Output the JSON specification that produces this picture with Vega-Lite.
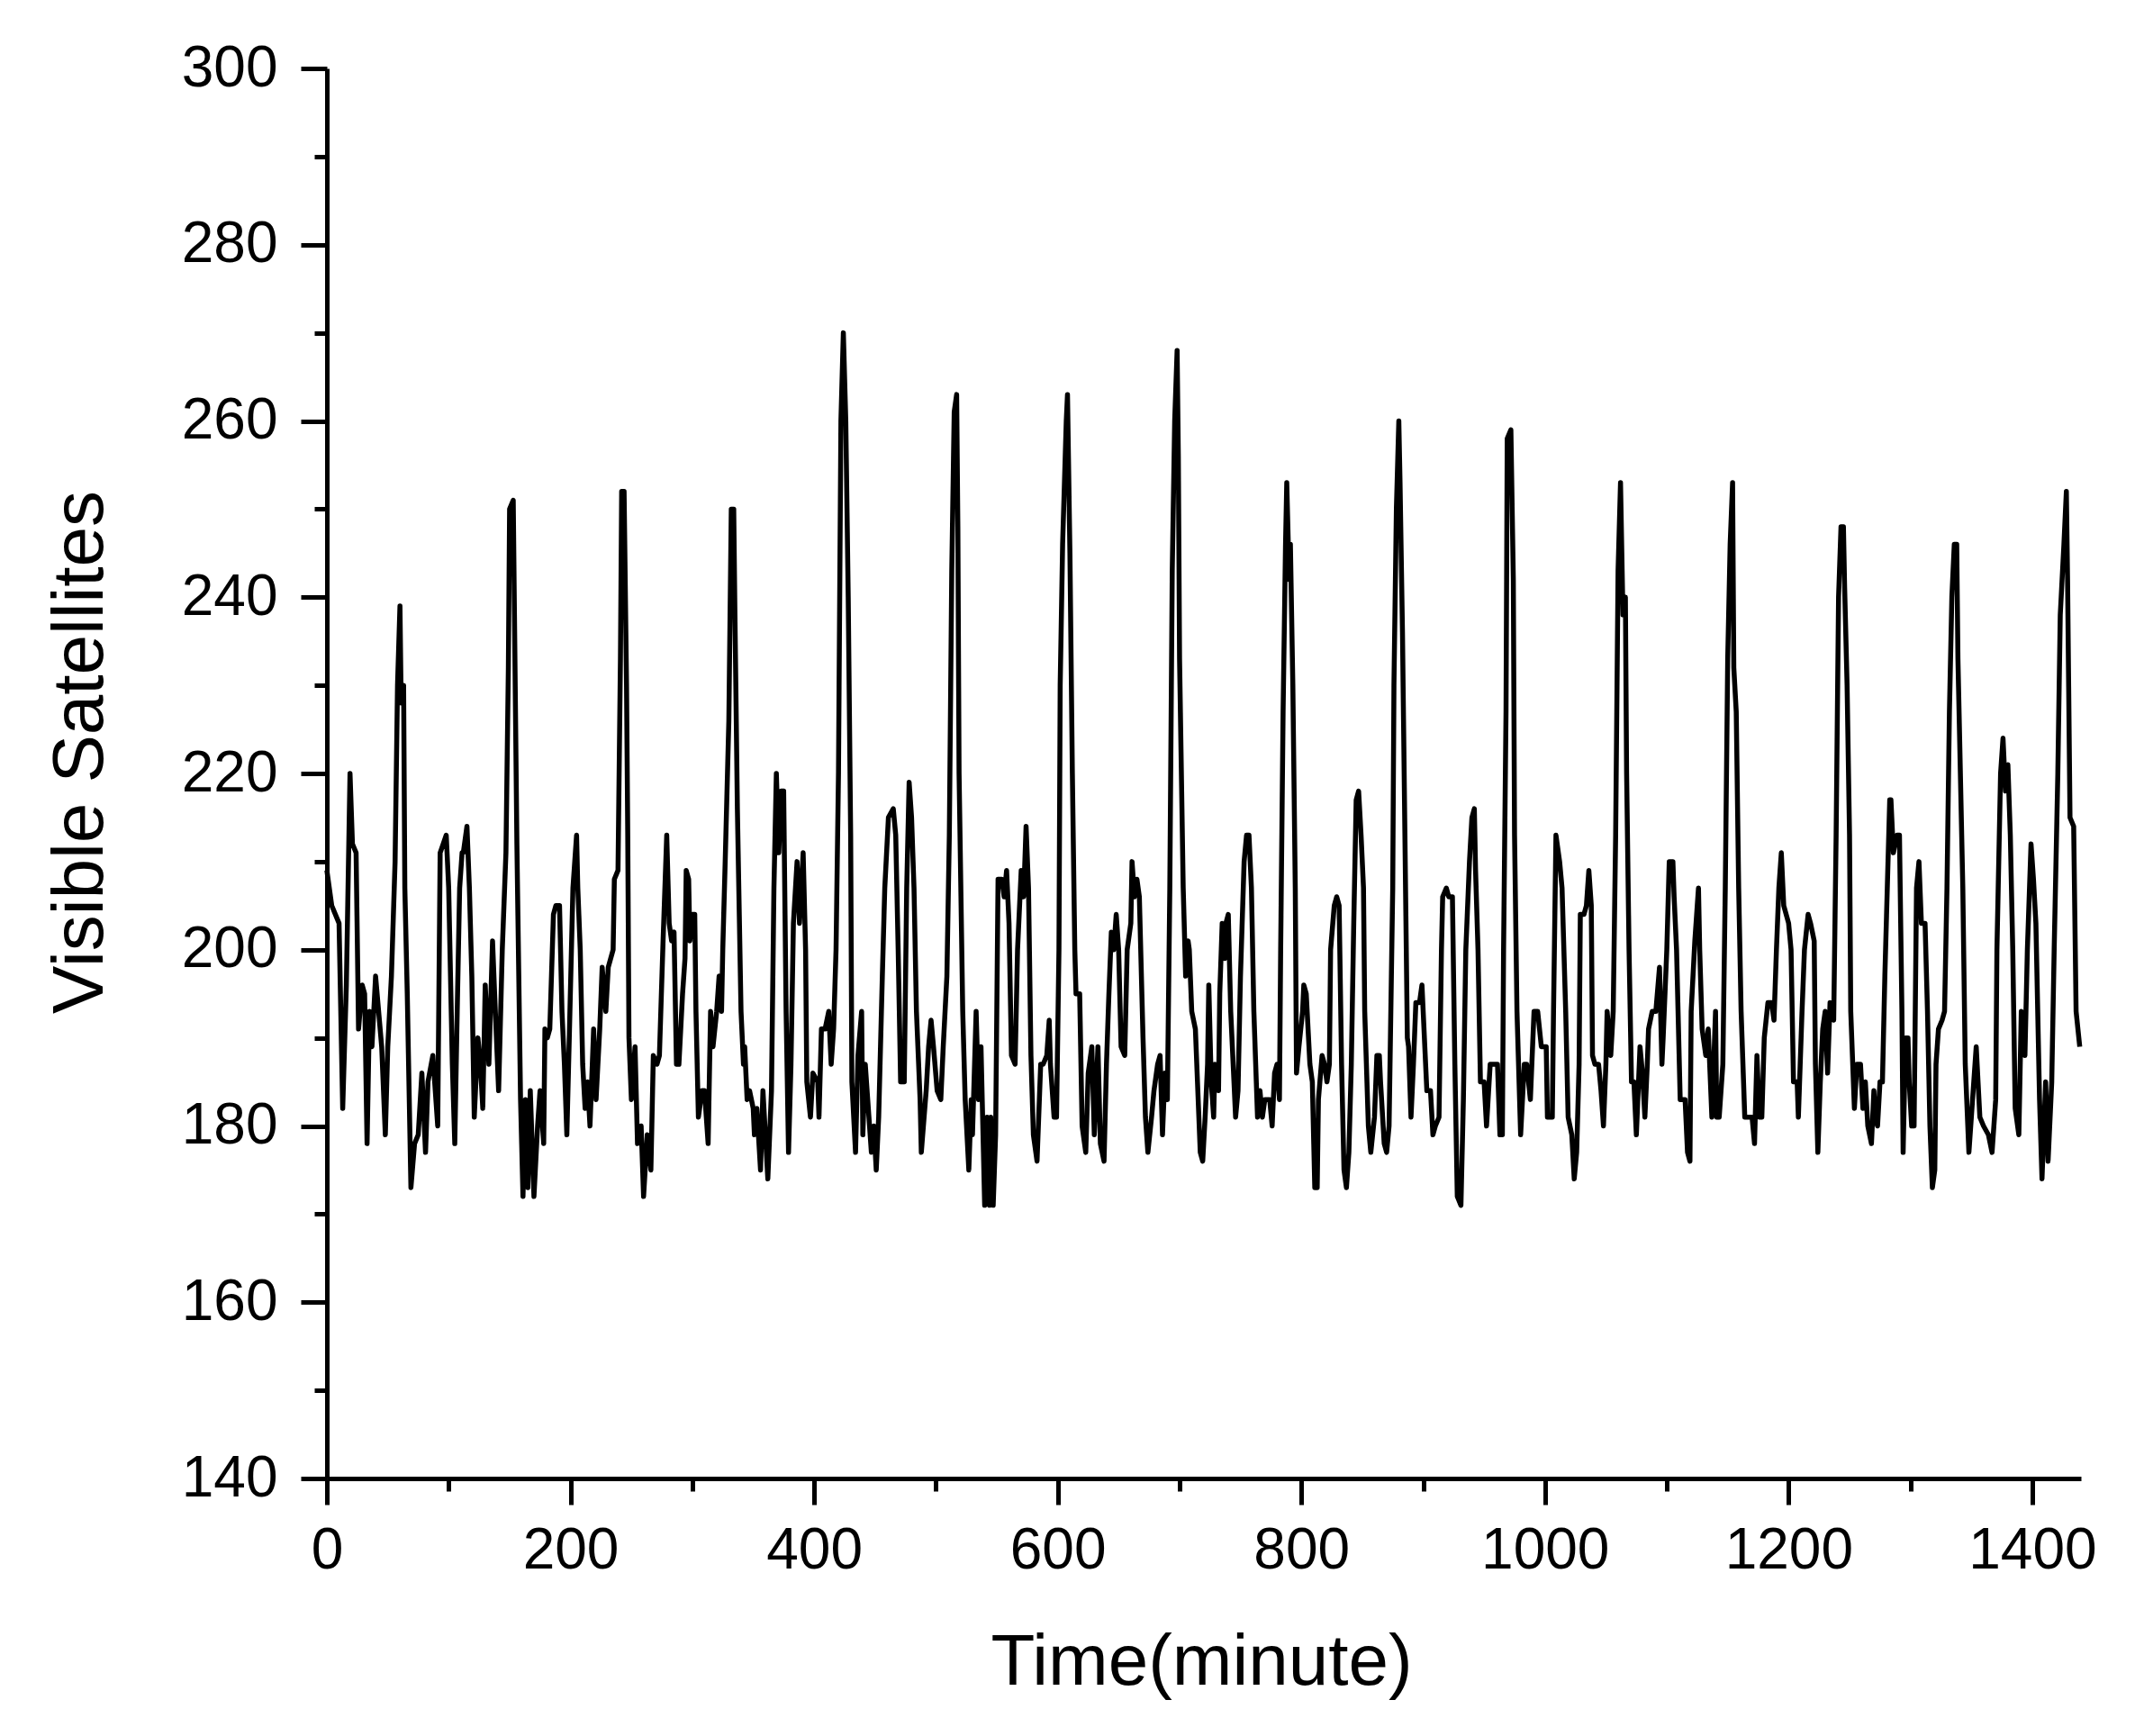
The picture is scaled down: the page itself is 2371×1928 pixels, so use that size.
{
  "$schema": "https://vega.github.io/schema/vega-lite/v6.json",
  "width": 1948,
  "height": 1566,
  "autosize": "none",
  "padding": {"left": 363, "top": 76, "right": 60, "bottom": 286},
  "background": "white",
  "config": {"view": {"stroke": null}},
  "data": {"values": [
{"t":0,"v":209},{"t":4,"v":205},{"t":10,"v":203},{"t":13,"v":182},{"t":16,"v":196},{"t":19,"v":220},{"t":21,"v":212},{"t":24,"v":211},{"t":26,"v":191},{"t":29,"v":196},{"t":31,"v":195},{"t":33,"v":178},{"t":35,"v":193},{"t":37,"v":189},{"t":40,"v":197},{"t":45,"v":189},{"t":48,"v":179},{"t":50,"v":189},{"t":53,"v":197},{"t":56,"v":210},{"t":58,"v":230},{"t":60,"v":239},{"t":61,"v":228},{"t":63,"v":230},{"t":64,"v":207},{"t":66,"v":195},{"t":69,"v":173},{"t":72,"v":178},{"t":75,"v":179},{"t":78,"v":186},{"t":81,"v":177},{"t":83,"v":185},{"t":87,"v":188},{"t":91,"v":180},{"t":93,"v":211},{"t":98,"v":213},{"t":100,"v":207},{"t":103,"v":187},{"t":105,"v":178},{"t":107,"v":193},{"t":109,"v":207},{"t":111,"v":211},{"t":112,"v":211},{"t":115,"v":214},{"t":117,"v":207},{"t":119,"v":197},{"t":121,"v":181},{"t":124,"v":190},{"t":126,"v":187},{"t":128,"v":182},{"t":130,"v":196},{"t":133,"v":187},{"t":136,"v":201},{"t":138,"v":194},{"t":141,"v":184},{"t":144,"v":200},{"t":147,"v":211},{"t":149,"v":232},{"t":150,"v":250},{"t":153,"v":251},{"t":154,"v":238},{"t":156,"v":212},{"t":159,"v":183},{"t":161,"v":172},{"t":163,"v":183},{"t":165,"v":173},{"t":167,"v":184},{"t":170,"v":172},{"t":173,"v":180},{"t":175,"v":184},{"t":178,"v":178},
{"t":179,"v":191},{"t":181,"v":190},{"t":183,"v":191},{"t":186,"v":204},{"t":188,"v":205},{"t":191,"v":205},{"t":193,"v":193},{"t":195,"v":187},{"t":197,"v":179},{"t":199,"v":190},{"t":202,"v":207},{"t":205,"v":213},{"t":206,"v":207},{"t":208,"v":200},{"t":210,"v":187},{"t":212,"v":182},{"t":214,"v":185},{"t":216,"v":180},{"t":219,"v":191},{"t":221,"v":183},{"t":224,"v":191},{"t":226,"v":198},{"t":229,"v":193},{"t":231,"v":198},{"t":235,"v":200},{"t":236,"v":208},{"t":239,"v":209},{"t":241,"v":233},{"t":242,"v":252},{"t":244,"v":252},{"t":246,"v":230},{"t":247,"v":213},{"t":248,"v":190},{"t":250,"v":183},{"t":253,"v":189},{"t":255,"v":178},{"t":258,"v":180},{"t":260,"v":172},{"t":263,"v":179},{"t":266,"v":175},{"t":268,"v":188},{"t":271,"v":187},{"t":273,"v":188},{"t":276,"v":201},{"t":279,"v":213},{"t":281,"v":203},{"t":283,"v":201},{"t":285,"v":202},{"t":287,"v":187},{"t":289,"v":187},{"t":292,"v":195},{"t":294,"v":199},{"t":295,"v":209},{"t":297,"v":208},{"t":298,"v":201},{"t":300,"v":204},{"t":302,"v":204},{"t":303,"v":193},{"t":305,"v":181},{"t":308,"v":184},{"t":310,"v":184},{"t":313,"v":178},{"t":315,"v":193},{"t":317,"v":189},{"t":320,"v":193},{"t":322,"v":197},{"t":324,"v":193},{"t":325,"v":200},{"t":327,"v":210},{"t":330,"v":226},{"t":332,"v":250},{"t":334,"v":250},{"t":335,"v":238},{"t":337,"v":216},{"t":340,"v":193},{"t":342,"v":187},{"t":343,"v":189},{"t":345,"v":183},{"t":347,"v":184},{"t":350,"v":182},{"t":351,"v":179},{"t":353,"v":182},
{"t":356,"v":175},{"t":358,"v":184},{"t":360,"v":179},{"t":362,"v":174},{"t":365,"v":184},{"t":367,"v":207},{"t":369,"v":220},{"t":371,"v":211},{"t":373,"v":218},{"t":375,"v":218},{"t":377,"v":193},{"t":379,"v":177},{"t":381,"v":187},{"t":383,"v":203},{"t":386,"v":210},{"t":388,"v":203},{"t":391,"v":211},{"t":393,"v":200},{"t":394,"v":185},{"t":397,"v":181},{"t":399,"v":186},{"t":403,"v":185},{"t":404,"v":181},{"t":406,"v":191},{"t":409,"v":191},{"t":412,"v":193},{"t":414,"v":187},{"t":416,"v":191},{"t":418,"v":200},{"t":420,"v":220},{"t":422,"v":260},{"t":424,"v":270},{"t":426,"v":260},{"t":428,"v":240},{"t":430,"v":213},{"t":431,"v":185},{"t":434,"v":177},{"t":436,"v":188},{"t":439,"v":193},{"t":440,"v":179},{"t":442,"v":187},{"t":445,"v":181},{"t":447,"v":177},{"t":449,"v":180},{"t":451,"v":175},{"t":453,"v":181},{"t":456,"v":197},{"t":458,"v":207},{"t":461,"v":215},{"t":465,"v":216},{"t":467,"v":213},{"t":469,"v":200},{"t":471,"v":185},{"t":474,"v":185},{"t":476,"v":207},{"t":478,"v":219},{"t":480,"v":215},{"t":482,"v":207},{"t":484,"v":193},{"t":487,"v":183},{"t":488,"v":177},{"t":492,"v":184},{"t":494,"v":189},{"t":496,"v":192},{"t":498,"v":189},{"t":501,"v":184},{"t":504,"v":183},{"t":506,"v":189},{"t":509,"v":197},{"t":511,"v":213},{"t":513,"v":243},{"t":515,"v":261},{"t":517,"v":263},{"t":518,"v":248},{"t":519,"v":220},{"t":522,"v":193},{"t":524,"v":183},{"t":527,"v":175},{"t":529,"v":183},{"t":530,"v":179},{"t":533,"v":193},{"t":535,"v":183},{"t":537,"v":189},
{"t":540,"v":171},{"t":542,"v":181},{"t":544,"v":171},{"t":545,"v":181},{"t":547,"v":171},{"t":549,"v":179},{"t":551,"v":208},{"t":554,"v":208},{"t":556,"v":206},{"t":558,"v":209},{"t":560,"v":203},{"t":562,"v":188},{"t":565,"v":187},{"t":567,"v":200},{"t":570,"v":209},{"t":572,"v":206},{"t":574,"v":214},{"t":576,"v":207},{"t":578,"v":188},{"t":580,"v":179},{"t":583,"v":176},{"t":586,"v":187},{"t":588,"v":187},{"t":591,"v":188},{"t":593,"v":192},{"t":594,"v":187},{"t":597,"v":181},{"t":599,"v":181},{"t":601,"v":200},{"t":602,"v":230},{"t":604,"v":246},{"t":607,"v":260},{"t":608,"v":263},{"t":610,"v":245},{"t":612,"v":220},{"t":614,"v":200},{"t":615,"v":195},{"t":618,"v":195},{"t":620,"v":180},{"t":623,"v":177},{"t":625,"v":186},{"t":628,"v":189},{"t":630,"v":179},{"t":633,"v":189},{"t":635,"v":178},{"t":638,"v":176},{"t":640,"v":187},{"t":642,"v":195},{"t":644,"v":202},{"t":646,"v":200},{"t":648,"v":204},{"t":650,"v":200},{"t":652,"v":189},{"t":655,"v":188},{"t":657,"v":200},{"t":660,"v":203},{"t":661,"v":210},{"t":663,"v":206},{"t":665,"v":208},{"t":667,"v":206},{"t":670,"v":190},{"t":672,"v":181},{"t":674,"v":177},{"t":677,"v":181},{"t":679,"v":184},{"t":682,"v":187},{"t":684,"v":188},{"t":686,"v":179},{"t":688,"v":186},{"t":690,"v":183},{"t":692,"v":207},{"t":694,"v":243},{"t":696,"v":260},{"t":698,"v":268},{"t":699,"v":256},{"t":700,"v":233},{"t":703,"v":207},{"t":705,"v":197},{"t":707,"v":201},{"t":708,"v":200},{"t":710,"v":193},{"t":713,"v":191},
{"t":717,"v":177},{"t":719,"v":176},{"t":721,"v":181},{"t":723,"v":187},{"t":724,"v":196},{"t":726,"v":185},{"t":728,"v":181},{"t":729,"v":187},{"t":732,"v":184},{"t":733,"v":195},{"t":735,"v":203},{"t":737,"v":199},{"t":738,"v":203},{"t":740,"v":204},{"t":742,"v":193},{"t":744,"v":187},{"t":746,"v":181},{"t":748,"v":184},{"t":750,"v":197},{"t":753,"v":210},{"t":755,"v":213},{"t":757,"v":213},{"t":759,"v":207},{"t":761,"v":193},{"t":764,"v":181},{"t":766,"v":184},{"t":768,"v":181},{"t":770,"v":183},{"t":774,"v":183},{"t":776,"v":180},{"t":778,"v":186},{"t":780,"v":187},{"t":782,"v":183},{"t":783,"v":200},{"t":785,"v":227},{"t":787,"v":246},{"t":788,"v":253},{"t":790,"v":242},{"t":791,"v":246},{"t":793,"v":230},{"t":795,"v":207},{"t":796,"v":186},{"t":798,"v":189},{"t":801,"v":193},{"t":802,"v":196},{"t":804,"v":195},{"t":807,"v":187},{"t":809,"v":185},{"t":811,"v":173},{"t":813,"v":173},{"t":814,"v":183},{"t":817,"v":188},{"t":819,"v":187},{"t":821,"v":185},{"t":823,"v":187},{"t":824,"v":200},{"t":827,"v":205},{"t":829,"v":206},{"t":831,"v":205},{"t":833,"v":187},{"t":835,"v":175},{"t":837,"v":173},{"t":839,"v":177},{"t":841,"v":187},{"t":843,"v":203},{"t":845,"v":217},{"t":847,"v":218},{"t":849,"v":213},{"t":851,"v":207},{"t":852,"v":193},{"t":855,"v":180},{"t":857,"v":177},{"t":860,"v":181},{"t":862,"v":188},{"t":864,"v":188},{"t":865,"v":185},{"t":868,"v":178},{"t":870,"v":177},{"t":872,"v":180},{"t":875,"v":207},{"t":876,"v":230},{"t":878,"v":250},{"t":880,"v":260},{"t":881,"v":253},{"t":883,"v":236},{"t":885,"v":213},{"t":887,"v":190},{"t":888,"v":189},{"t":890,"v":181},{"t":892,"v":187},{"t":894,"v":194},{"t":897,"v":194},{"t":899,"v":196},
{"t":901,"v":190},{"t":903,"v":184},{"t":906,"v":184},{"t":908,"v":179},{"t":910,"v":180},{"t":913,"v":181},{"t":915,"v":200},{"t":916,"v":206},{"t":919,"v":207},{"t":921,"v":206},{"t":924,"v":206},{"t":926,"v":187},{"t":928,"v":172},{"t":931,"v":171},{"t":933,"v":183},{"t":935,"v":200},{"t":938,"v":210},{"t":940,"v":215},{"t":942,"v":216},{"t":943,"v":209},{"t":945,"v":200},{"t":947,"v":185},{"t":950,"v":185},{"t":952,"v":180},{"t":955,"v":187},{"t":959,"v":187},{"t":961,"v":187},{"t":963,"v":179},{"t":965,"v":179},{"t":966,"v":200},{"t":968,"v":227},{"t":969,"v":258},{"t":972,"v":259},{"t":974,"v":242},{"t":975,"v":213},{"t":977,"v":193},{"t":980,"v":179},{"t":983,"v":187},{"t":985,"v":187},{"t":988,"v":183},{"t":991,"v":193},{"t":994,"v":193},{"t":997,"v":189},{"t":1001,"v":189},{"t":1002,"v":181},{"t":1006,"v":181},{"t":1007,"v":193},{"t":1009,"v":213},{"t":1012,"v":210},{"t":1014,"v":207},{"t":1017,"v":193},{"t":1019,"v":181},{"t":1022,"v":179},{"t":1024,"v":174},{"t":1026,"v":177},{"t":1028,"v":187},{"t":1029,"v":204},{"t":1032,"v":204},{"t":1034,"v":205},{"t":1036,"v":209},{"t":1038,"v":205},{"t":1039,"v":188},{"t":1041,"v":187},{"t":1044,"v":187},{"t":1046,"v":184},{"t":1048,"v":180},{"t":1050,"v":187},{"t":1051,"v":193},{"t":1054,"v":188},{"t":1056,"v":193},{"t":1058,"v":213},{"t":1060,"v":243},{"t":1062,"v":253},{"t":1064,"v":238},{"t":1066,"v":240},{"t":1067,"v":220},{"t":1069,"v":200},{"t":1071,"v":185},{"t":1073,"v":185},{"t":1075,"v":179},{"t":1078,"v":189},
{"t":1080,"v":186},{"t":1082,"v":181},{"t":1084,"v":187},{"t":1085,"v":191},{"t":1088,"v":193},{"t":1091,"v":193},{"t":1094,"v":198},{"t":1096,"v":187},{"t":1097,"v":190},{"t":1100,"v":200},{"t":1102,"v":210},{"t":1105,"v":210},{"t":1106,"v":206},{"t":1108,"v":200},{"t":1111,"v":183},{"t":1115,"v":183},{"t":1117,"v":177},{"t":1119,"v":176},{"t":1120,"v":193},{"t":1123,"v":201},{"t":1126,"v":207},{"t":1127,"v":200},{"t":1129,"v":191},{"t":1132,"v":188},{"t":1134,"v":191},{"t":1137,"v":181},{"t":1140,"v":193},{"t":1141,"v":181},{"t":1143,"v":181},{"t":1146,"v":187},{"t":1148,"v":207},{"t":1150,"v":233},{"t":1152,"v":246},{"t":1154,"v":253},{"t":1155,"v":232},{"t":1157,"v":227},{"t":1159,"v":207},{"t":1161,"v":193},{"t":1164,"v":181},{"t":1166,"v":181},{"t":1170,"v":181},{"t":1172,"v":178},{"t":1174,"v":188},{"t":1176,"v":181},{"t":1178,"v":181},{"t":1180,"v":190},{"t":1183,"v":194},{"t":1186,"v":194},{"t":1188,"v":192},{"t":1190,"v":200},{"t":1192,"v":207},{"t":1194,"v":211},{"t":1196,"v":205},{"t":1200,"v":203},{"t":1202,"v":200},{"t":1204,"v":185},{"t":1207,"v":185},{"t":1208,"v":181},{"t":1211,"v":193},{"t":1213,"v":200},{"t":1216,"v":204},{"t":1218,"v":203},{"t":1221,"v":201},{"t":1222,"v":187},{"t":1224,"v":177},{"t":1226,"v":185},{"t":1228,"v":191},{"t":1230,"v":193},{"t":1232,"v":186},{"t":1234,"v":194},{"t":1237,"v":192},{"t":1239,"v":213},{"t":1241,"v":240},{"t":1243,"v":248},{"t":1245,"v":248},{"t":1246,"v":241},{"t":1248,"v":230},{"t":1250,"v":213},{"t":1251,"v":193},{"t":1254,"v":182},{"t":1256,"v":187},{"t":1259,"v":187},
{"t":1261,"v":182},{"t":1263,"v":185},{"t":1265,"v":180},{"t":1268,"v":178},{"t":1270,"v":184},{"t":1271,"v":181},{"t":1273,"v":180},{"t":1275,"v":185},{"t":1277,"v":185},{"t":1279,"v":197},{"t":1281,"v":207},{"t":1283,"v":217},{"t":1284,"v":217},{"t":1286,"v":211},{"t":1289,"v":213},{"t":1291,"v":213},{"t":1293,"v":193},{"t":1294,"v":177},{"t":1296,"v":190},{"t":1298,"v":190},{"t":1299,"v":185},{"t":1301,"v":180},{"t":1303,"v":180},{"t":1305,"v":207},{"t":1307,"v":210},{"t":1309,"v":203},{"t":1312,"v":203},{"t":1314,"v":193},{"t":1316,"v":180},{"t":1318,"v":173},{"t":1320,"v":175},{"t":1321,"v":187},{"t":1323,"v":191},{"t":1326,"v":192},{"t":1328,"v":193},{"t":1330,"v":207},{"t":1332,"v":227},{"t":1334,"v":240},{"t":1336,"v":246},{"t":1338,"v":246},{"t":1339,"v":233},{"t":1341,"v":220},{"t":1343,"v":207},{"t":1345,"v":187},{"t":1348,"v":177},{"t":1350,"v":181},{"t":1354,"v":189},{"t":1357,"v":181},{"t":1360,"v":180},{"t":1364,"v":179},{"t":1367,"v":177},{"t":1370,"v":183},{"t":1371,"v":200},{"t":1374,"v":220},{"t":1376,"v":224},{"t":1378,"v":218},{"t":1380,"v":221},{"t":1382,"v":213},{"t":1384,"v":200},{"t":1386,"v":182},{"t":1389,"v":179},{"t":1391,"v":193},{"t":1394,"v":188},{"t":1396,"v":200},{"t":1399,"v":212},{"t":1401,"v":208},{"t":1403,"v":203},{"t":1406,"v":183},{"t":1408,"v":174},{"t":1411,"v":185},{"t":1413,"v":176},{"t":1416,"v":185},{"t":1418,"v":200},{"t":1421,"v":220},{"t":1423,"v":238},{"t":1426,"v":246},{"t":1428,"v":252},{"t":1429,"v":242},{"t":1431,"v":215},{"t":1434,"v":214},{"t":1436,"v":193},{"t":1439,"v":189}
  ]},
  "layer": [
    {
      "mark": {"type": "line", "color": "black", "strokeWidth": 5.5, "strokeJoin": "round"},
      "encoding": {
        "x": {"field": "t", "type": "quantitative",
          "scale": {"domain": [0, 1440], "nice": false, "zero": false},
          "axis": {"orient": "bottom", "values": [0,200,400,600,800,1000,1200,1400], "format": "d", "grid": false,
            "tickSize": 29, "tickWidth": 5, "tickColor": "black", "domainWidth": 5, "domainColor": "black",
            "labelFont": "Liberation Sans", "labelFontSize": 64, "labelColor": "black", "labelPadding": 19, "labelFlush": false,
            "title": "Time(minute)", "titleFont": "Liberation Sans", "titleFontSize": 80, "titleFontWeight": "normal", "titleColor": "black",
            "titleX": 971, "titleY": 228, "titleBaseline": "alphabetic", "titleAnchor": "middle", "titleAlign": "center"}},
        "y": {"field": "v", "type": "quantitative",
          "scale": {"domain": [140, 300], "nice": false, "zero": false},
          "axis": {"orient": "left", "values": [140,160,180,200,220,240,260,280,300], "format": "d", "grid": false,
            "tickSize": 29, "tickWidth": 5, "tickColor": "black", "domainWidth": 5, "domainColor": "black",
            "labelFont": "Liberation Sans", "labelFontSize": 64, "labelColor": "black", "labelPadding": 26,
            "labelFlush": false,
            "title": "Visible Satellites", "titleFont": "Liberation Sans", "titleFontSize": 80, "titleFontWeight": "normal", "titleColor": "black",
            "titleAngle": -90, "titleX": -250, "titleY": 759, "titleBaseline": "alphabetic", "titleAlign": "center", "titleAnchor": "middle"}}
      }
    },
    {
      "mark": {"type": "line", "opacity": 0},
      "encoding": {
        "x": {"field": "t", "type": "quantitative",
          "axis": {"orient": "bottom", "values": [100,300,500,700,900,1100,1300], "grid": false, "labels": false, "domain": false,
            "tickSize": 14, "tickWidth": 5, "tickColor": "black", "title": null}},
        "y": {"field": "v", "type": "quantitative",
          "axis": {"orient": "left", "values": [150,170,190,210,230,250,270,290], "grid": false, "labels": false, "domain": false,
            "tickSize": 14, "tickWidth": 5, "tickColor": "black", "title": null}}
      }
    }
  ],
  "resolve": {"axis": {"x": "independent", "y": "independent"}}
}
